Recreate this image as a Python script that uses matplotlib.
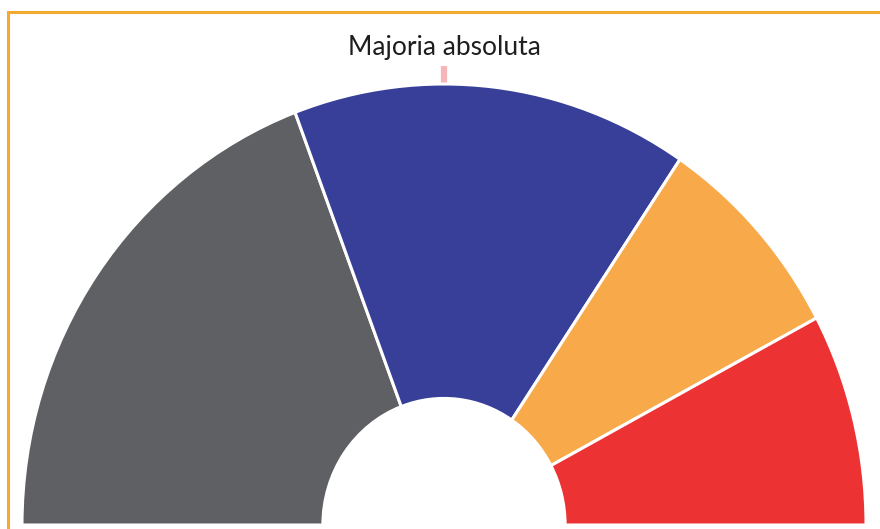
import matplotlib
matplotlib.use("Agg")
import matplotlib.pyplot as plt
import numpy as np

# Data
parties = ["Grup 1", "Grup 2", "Grup 3", "Grup 4"]
seats = [52, 41, 21, 21]
colors = ["#5f6063", "#373f98", "#f8aa4b", "#ec3233"]
title_text = "Majoria absoluta"

total = sum(seats)

W, H = 880, 529
fig = plt.figure(figsize=(W / 100, H / 100), dpi=100)
ax = fig.add_axes([0, 0, 1, 1])

# pixel geometry of the half-donut
cx, cy = 444, 525      # centre (px, from top)
rx, ry = 422, 441      # outer radii (px)
inner = 0.287

ax.pie(seats + [total], colors=colors + ["none"], startangle=180,
       counterclock=False, radius=1.0,
       wedgeprops=dict(width=1 - inner, edgecolor="white", linewidth=2.2))
for w in ax.patches[-1:]:
    w.set_edgecolor("none")

ax.set_aspect("auto")
ax.set_xlim(-cx / rx, (W - cx) / rx)
ax.set_ylim((cy - H) / ry, cy / ry)
ax.axis("off")

# majority marker
maj_angle = np.pi * (1 - (total / 2) / total)
mx = np.cos(maj_angle)
ax.plot([mx, mx], [1.0, 1.04], color="#f5b5b9", lw=4.5,
        solid_capstyle="butt", zorder=0)

ax.text(mx, (cy - 48) / ry, title_text, ha="center", va="center",
        fontsize=19, family="Lato", fontweight="normal", color="#1e1e1e")

# orange frame (top + left)
fig.add_artist(plt.Line2D([8 / W, 1.0], [1 - 12 / H, 1 - 12 / H],
                          transform=fig.transFigure, color="#f4a92f", lw=2.2))
fig.add_artist(plt.Line2D([8 / W, 8 / W], [0, 1 - 12 / H],
                          transform=fig.transFigure, color="#f4a92f", lw=2.2))

fig.savefig("out.png", dpi=100, facecolor="white")
